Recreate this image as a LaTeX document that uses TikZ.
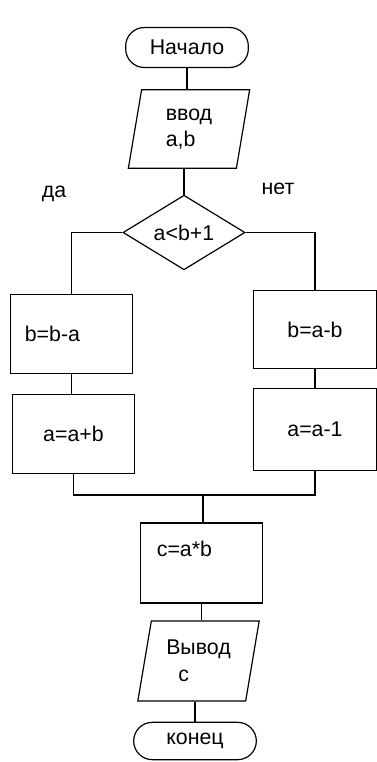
\documentclass[tikz,border=0pt]{standalone}
\usepackage{fontspec}
\setmainfont{Liberation Sans}
\usetikzlibrary{shapes.geometric}

\begin{document}
\begin{tikzpicture}[x=0.75pt, y=-0.75pt, line width=0.9pt,
  font=\fontsize{16pt}{20pt}\selectfont,
  term/.style={draw, rectangle, rounded corners=14pt, minimum width=92pt, minimum height=30pt, inner sep=0pt},
  io/.style={draw, trapezium, trapezium left angle=72, trapezium right angle=108, trapezium stretches body, minimum width=91pt, minimum height=59pt, inner sep=0pt, align=left},
  cond/.style={draw, diamond, aspect=1.6, minimum width=91.5pt, minimum height=56pt, inner sep=0pt},
  proc/.style={draw, rectangle, minimum width=92pt, minimum height=59pt, inner sep=0pt},
  lbl/.style={inner sep=0pt}]
  \useasboundingbox (0,0) rectangle (377,762);

  % Drawing start and input
  \node[term] (start) at (187,47.5) {Начало};%
  \node[io] (in) at (189,129) {ввод\\a,b};%

  % Drawing condition
  \node[cond] (cond) at (184,232.5) {a<b+1};%
  \node[lbl] (yes) at (54,194) {да};%
  \node[lbl] (no) at (278,189) {нет};%

  % Drawing branch "да"
  \node[proc, text width=70pt, align=left] (b1) at (71.5,334) {b=b-a};%
  \node[proc] (b2) at (73.5,434) {a=a+b};%

  % Drawing branch "нет"
  \node[proc] (b3) at (315,329.5) {b=a-b};%
  \node[proc, minimum height=61pt] (b4) at (315,429.5) {a=a-1};%

  % Drawing result, output and end
  \coordinate (join) at (203,495);%
  \node[proc, minimum height=60pt, text width=67pt, align=left, text depth=22pt] (calc) at (201.5,563) {c=a*b};%
  \node[io, minimum height=60pt] (out) at (198.5,661) {Вывод\\\hspace{9pt}c};%
  \node[term, minimum height=28pt] (end) at (195,741) {конец};%

  % Drawing connectors
  \draw (start.south) -- (start.south |- in.north);%
  \draw (cond.north |- in.south) -- (cond.north);%
  \draw (cond.west) -| (b1.north);%
  \draw (cond.east) -| (b3.north);%
  \draw (b1.south) -- (b1.south |- b2.north);%
  \draw (b3.south) -- (b3.south |- b4.north);%
  \draw (b2.south) |- (join) -| (b4.south);%
  \draw (join) -- (join |- calc.north);%
  \draw (calc.south) -- (calc.south |- out.north);%
  \draw (end.north |- out.south) -- (end.north);%
\end{tikzpicture}
\end{document}
